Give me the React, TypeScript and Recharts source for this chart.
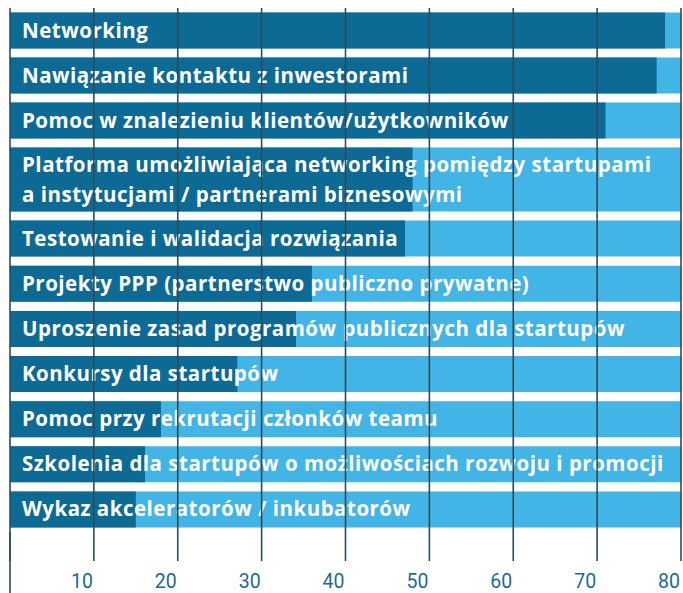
import { Bar, BarChart, ReferenceLine, XAxis, YAxis } from "recharts";

const categories = [
  "Networking",
  "Nawiązanie kontaktu z inwestorami",
  "Pomoc w znalezieniu klientów/użytkowników",
  "Platforma umożliwiająca networking pomiędzy startupami\na instytucjami / partnerami biznesowymi",
  "Testowanie i walidacja rozwiązania",
  "Projekty PPP (partnerstwo publiczno prywatne)",
  "Uproszenie zasad programów publicznych dla startupów",
  "Konkursy dla startupów",
  "Pomoc przy rekrutacji członków teamu",
  "Szkolenia dla startupów o możliwościach rozwoju i promocji",
  "Wykaz akceleratorów / inkubatorów"
];
const values = [78.1, 77.1, 71.0, 48.0, 47.1, 36.0, 34.1, 27.1, 18.0, 16.1, 15.0];
const xTicks = [0, 10, 20, 30, 40, 50, 60, 70, 80];

const DARK = "#0d6a95";
const LIGHT = "#42b4e6";
const GRID = "#2b4c5c";
const TICK_TEXT = "#1b6b8f";
const LABEL_FONT = "'Open Sans', 'Noto Sans', sans-serif";
const TICK_FONT = "Roboto, 'Noto Sans', sans-serif";

const rows = categories.map((name, i) => ({ name, value: values[i] }));

// the 4th row holds two lines of text, so it gets its own taller chart
const groups = [
  { data: rows.slice(0, 3), top: 7.7, height: 135, axis: false },
  { data: rows.slice(3, 4), top: 142.7, height: 73.5, axis: false },
  { data: rows.slice(4), top: 216.2, height: 376.8, axis: true }
];

const RowLabel = (props: any) => {
  const { x, y, payload } = props;
  const lines = String(payload.value).split("\n");
  return (
    <text fill="#ffffff" fontFamily={LABEL_FONT} fontSize={20.5} fontWeight={700} letterSpacing={0.5}>
      {lines.map((line, i) => (
        <tspan key={i} x={x + 12} y={y + 7 + (i - (lines.length - 1) / 2) * 30}>
          {line}
        </tspan>
      ))}
    </text>
  );
};

const AxisTick = (props: any) => {
  const { x, y, payload } = props;
  if (payload.value === 0) {
    return <line x1={x} x2={x} y1={y - 29} y2={y + 40} stroke={GRID} strokeWidth={1.6} />;
  }
  return (
    <text x={x - 1} y={y + 27} textAnchor="end" fill={TICK_TEXT} fontFamily={TICK_FONT} fontSize={19.5}>
      {payload.value}
    </text>
  );
};

export default function App() {
  return (
    <div style={{ position: "relative", width: 683, height: 593, background: "#fff" }}>
      <style>{"body{margin:0;overflow:hidden}"}</style>
      {groups.map((g, gi) => (
        <div key={gi} style={{ position: "absolute", left: 0, top: g.top }}>
          <BarChart
            width={683}
            height={g.height}
            data={g.data}
            layout="vertical"
            barCategoryGap={4.6}
            margin={{ top: 0, right: 2, bottom: 0, left: 9 }}
          >
            <XAxis
              type="number"
              domain={[0, 80]}
              ticks={xTicks}
              interval={0}
              hide={!g.axis}
              height={60.8}
              axisLine={false}
              tickSize={29}
              tickMargin={0}
              tickLine={{ stroke: GRID, strokeWidth: 1.6 }}
              tick={<AxisTick />}
            />
            <YAxis
              type="category"
              dataKey="name"
              width={1}
              axisLine={false}
              tickLine={false}
              tickSize={0}
              tickMargin={0}
              interval={0}
              tick={<RowLabel />}
            />
            <Bar dataKey="value" fill={DARK} background={{ fill: LIGHT }} isAnimationActive={false} />
            {xTicks.map((t) => (
              <ReferenceLine key={t} x={t} stroke={GRID} strokeWidth={1.6} zIndex={2500} />
            ))}
          </BarChart>
        </div>
      ))}
    </div>
  );
}
